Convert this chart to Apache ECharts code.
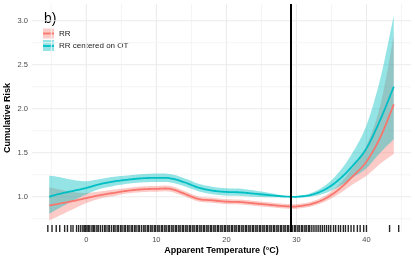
<!DOCTYPE html>
<html><head><meta charset="utf-8">
<script src="https://cdn.jsdelivr.net/npm/echarts@6/dist/echarts.min.js"></script>
<style>html,body{margin:0;padding:0;background:#fff}#c{width:415px;height:260px}</style>
</head><body><div id="c"></div>
<script>
const temps  = [-5.3,-4,-2,0,2,4,6,8,10,12,14,16,18,20,22,24,26,28,29.2,30,32,34,36,38,40,42,43.9];
const rrFit  = [0.90,0.92,0.95,0.985,1.02,1.045,1.07,1.085,1.09,1.09,1.035,0.975,0.96,0.945,0.94,0.925,0.91,0.895,0.89,0.89,0.915,0.975,1.08,1.23,1.40,1.68,2.05];
const rrLow  = [0.732,0.780,0.856,0.929,0.981,1.010,1.039,1.053,1.058,1.058,1.005,0.947,0.932,0.917,0.913,0.898,0.883,0.869,0.864,0.864,0.888,0.942,1.029,1.139,1.239,1.377,1.486];
const rrHigh = [1.107,1.086,1.055,1.044,1.061,1.082,1.102,1.118,1.123,1.123,1.066,1.004,0.989,0.973,0.968,0.953,0.937,0.922,0.917,0.917,0.942,1.009,1.134,1.328,1.582,2.05,2.83];
const otFit  = [1.00,1.03,1.065,1.10,1.145,1.175,1.195,1.21,1.215,1.21,1.165,1.105,1.07,1.055,1.05,1.035,1.02,1.005,1.00,1.00,1.02,1.08,1.19,1.35,1.55,1.88,2.25];
const otLow  = [0.806,0.866,0.951,1.028,1.090,1.124,1.149,1.163,1.168,1.163,1.120,1.063,1.029,1.014,1.010,1.000,0.995,0.995,0.998,0.995,1.000,1.038,1.112,1.216,1.325,1.504,1.654];
const otHigh = [1.24,1.226,1.193,1.177,1.202,1.228,1.243,1.258,1.264,1.258,1.212,1.149,1.113,1.097,1.092,1.071,1.046,1.015,1.002,1.005,1.040,1.123,1.273,1.499,1.814,2.35,3.06];
const xTicks = [0,10,20,30,40];
const yTicks = [1.0,1.5,2.0,2.5,3.0];
const xMinor = [-5,5,15,25,35,45];
const yMinor = [0.75,1.25,1.75,2.25,2.75];
const refTemp = 29.2;
const rugTemps = [-5.5,-4.9,-4.3,-3.8,-3.1,-2.7,-2.2,-1.9,-1.4,-1.1,-0.8,-0.5,-0.3,-0.1,
 0.1,0.3,0.5,0.8,1.0,1.2,1.5,1.7,2.0,2.3,2.6,2.8,3.1,3.3,3.6,3.9,4.1,4.4,4.6,4.9,5.1,5.4,5.6,5.9,6.1,6.4,6.6,6.9,7.1,7.4,7.6,7.9,
 8.2,8.4,8.7,8.9,9.2,9.4,9.7,9.9,10.2,10.4,10.7,10.9,11.2,11.4,11.7,11.9,12.2,12.4,12.7,12.9,13.2,13.4,13.7,13.9,14.2,14.4,14.7,14.9,
 15.2,15.4,15.7,15.9,16.2,16.4,16.7,16.9,17.2,17.4,17.7,17.9,18.2,18.4,18.7,18.9,19.2,19.4,19.7,19.9,20.2,20.4,20.7,20.9,21.2,21.4,21.7,21.9,
 22.2,22.4,22.7,22.9,23.2,23.4,23.7,23.9,24.2,24.4,24.7,24.9,25.2,25.4,25.7,25.9,26.2,26.4,26.7,26.9,27.2,27.4,27.7,27.9,28.2,28.4,28.7,28.9,
 29.2,29.4,29.7,29.9,30.2,30.4,30.7,30.9,31.2,31.4,31.7,31.9,32.2,32.5,32.8,33.1,33.4,33.7,34.0,34.3,34.6,34.9,35.3,35.6,36.0,36.3,36.7,37.0,
 37.4,37.8,38.2,38.7,39.1,39.6,40.0,43.3,44.6];
const seriesNames = ['RR','RR centered on OT'];
const panelLabel = 'b)';
const xTitle = 'Apparent Temperature (°C)';
const yTitle = 'Cumulative Risk';

const RED = '#F8766D', TEAL = '#00BFC4';
const RED_FILL = 'rgba(248,118,109,0.38)', TEAL_FILL = 'rgba(0,191,196,0.42)';
const FONT = 'Liberation Sans, Arial, sans-serif';
const X_MIN = -7.76, X_MAX = 46.36, Y_MIN = 0.6, Y_MAX = 3.19;

// Catmull-Rom smoothing in pixel space (rendering only)
function smoothPts(pts) {
  const out = [];
  const n = pts.length;
  for (let i = 0; i < n - 1; i++) {
    const p0 = pts[Math.max(i - 1, 0)], p1 = pts[i], p2 = pts[i + 1], p3 = pts[Math.min(i + 2, n - 1)];
    const steps = 10;
    for (let s = 0; s < steps; s++) {
      const t = s / steps, t2 = t * t, t3 = t2 * t;
      const f = (a, b, c, d) => 0.5 * ((2 * b) + (-a + c) * t + (2 * a - 5 * b + 4 * c - d) * t2 + (-a + 3 * b - 3 * c + d) * t3);
      out.push([f(p0[0], p1[0], p2[0], p3[0]), f(p0[1], p1[1], p2[1], p3[1])]);
    }
  }
  out.push(pts[n - 1]);
  return out;
}

function bandSeries(lo, hi, fill) {
  return {
    type: 'custom', data: [[temps[0], lo[0]]], silent: true, z: 2, clip: true,
    renderItem: (params, api) => {
      const up = smoothPts(temps.map((t, i) => api.coord([t, hi[i]])));
      const dn = smoothPts(temps.map((t, i) => api.coord([t, lo[i]])));
      return { type: 'polygon', shape: { points: up.concat(dn.reverse()) }, style: { fill } };
    }
  };
}
function lineSeries(name, fit, color) {
  return {
    type: 'custom', name, data: [[temps[0], fit[0]]], silent: true, z: 3, clip: true,
    renderItem: (params, api) => {
      const pts = smoothPts(temps.map((t, i) => api.coord([t, fit[i]])));
      return { type: 'polyline', shape: { points: pts }, style: { stroke: color, lineWidth: 1.8, fill: null, lineJoin: 'round' } };
    }
  };
}

const gridSpec = [];
xTicks.forEach(v => gridSpec.push(['x', v, 1]));
xMinor.forEach(v => gridSpec.push(['x', v, 0]));
yTicks.forEach(v => gridSpec.push(['y', v, 1]));
yMinor.forEach(v => gridSpec.push(['y', v, 0]));

const chart = echarts.init(document.getElementById('c'), null, { renderer: 'canvas' });
chart.setOption({
  animation: false,
  backgroundColor: '#fff',
  grid: { left: 32, right: 4, top: 4, bottom: 28, containLabel: false },
  xAxis: {
    type: 'value', min: X_MIN, max: X_MAX,
    axisLine: { show: false }, axisTick: { show: false }, splitLine: { show: false },
    axisLabel: { customValues: xTicks, color: '#4d4d4d', fontSize: 7.5, fontFamily: FONT, margin: 4 }
  },
  yAxis: {
    type: 'value', min: Y_MIN, max: Y_MAX,
    axisLine: { show: false }, axisTick: { show: false }, splitLine: { show: false },
    axisLabel: { customValues: yTicks, color: '#4d4d4d', fontSize: 7.5, fontFamily: FONT, margin: 4,
      formatter: v => v.toFixed(1) }
  },
  series: [
    { type: 'custom', data: gridSpec.map((g, i) => [i]), silent: true, z: 0,
      renderItem: (params, api) => {
        const g = gridSpec[params.dataIndex];
        const a = g[0] === 'x' ? api.coord([g[1], Y_MIN]) : api.coord([X_MIN, g[1]]);
        const b = g[0] === 'x' ? api.coord([g[1], Y_MAX]) : api.coord([X_MAX, g[1]]);
        return { type: 'line', shape: { x1: a[0], y1: a[1], x2: b[0], y2: b[1] },
          style: { stroke: g[2] ? '#ebebeb' : '#f3f3f3', lineWidth: g[2] ? 1.1 : 0.9 } };
      } },
    bandSeries(rrLow, rrHigh, RED_FILL),
    bandSeries(otLow, otHigh, TEAL_FILL),
    lineSeries(seriesNames[0], rrFit, RED),
    lineSeries(seriesNames[1], otFit, TEAL),
    { type: 'custom', data: rugTemps.map(t => [t]), silent: true, z: 4,
      renderItem: (params, api) => {
        const p = api.coord([api.value(0), Y_MIN]);
        return { type: 'line', shape: { x1: p[0], y1: p[1], x2: p[0], y2: p[1] - 7 },
          style: { stroke: 'rgba(0,0,0,0.85)', lineWidth: 1.4 } };
      },
      markLine: { silent: true, symbol: ['none', 'none'], label: { show: false }, animation: false,
        data: [{ xAxis: refTemp, lineStyle: { color: '#000', width: 2, type: 'solid' } }] } }
  ],
  graphic: [
    { type: 'text', left: 44, top: 12, style: { text: panelLabel, font: '14px ' + FONT, fill: '#000' } },
    { type: 'rect', shape: { x: 43, y: 28.5, width: 11, height: 10 }, style: { fill: RED_FILL } },
    { type: 'line', shape: { x1: 43, y1: 33.5, x2: 54, y2: 33.5 }, style: { stroke: RED, lineWidth: 1.8 } },
    { type: 'rect', shape: { x: 43, y: 40, width: 11, height: 11 }, style: { fill: TEAL_FILL } },
    { type: 'line', shape: { x1: 43, y1: 46, x2: 54, y2: 46 }, style: { stroke: TEAL, lineWidth: 1.8 } },
    { type: 'text', x: 59, y: 33.7, style: { text: seriesNames[0], font: '8px ' + FONT, fill: '#1a1a1a', verticalAlign: 'middle' } },
    { type: 'text', x: 59, y: 46.2, style: { text: seriesNames[1], font: '8px ' + FONT, fill: '#1a1a1a', verticalAlign: 'middle' } },
    { type: 'text', x: 221.5, y: 251, style: { text: xTitle, font: 'bold 9px ' + FONT, fill: '#000', align: 'center', verticalAlign: 'middle' } },
    { type: 'text', x: 8, y: 118, rotation: Math.PI / 2, style: { text: yTitle, font: 'bold 9px ' + FONT, fill: '#000', align: 'center', verticalAlign: 'middle' } }
  ]
});
</script>
</body></html>
